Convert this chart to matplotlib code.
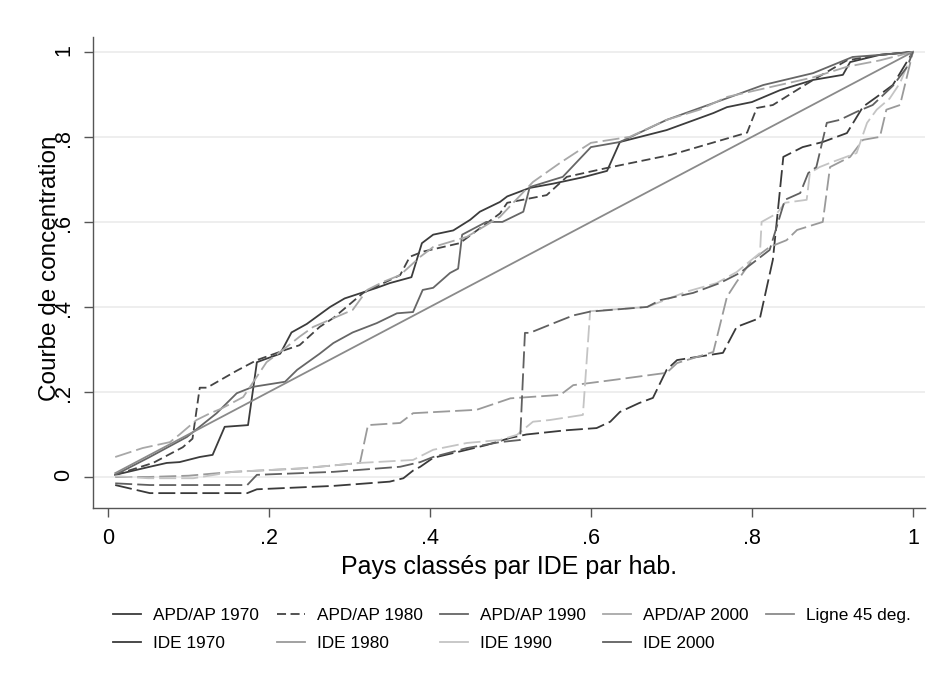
import matplotlib.pyplot as plt

plt.rcParams['font.family'] = ['Liberation Sans', 'DejaVu Sans']

# --- data ---
apd70_x = [0.009, 0.052, 0.073, 0.089, 0.114, 0.13, 0.145, 0.174, 0.185, 0.214, 0.228, 0.247, 0.276, 0.294,
           0.334, 0.35, 0.377, 0.39, 0.404, 0.429, 0.45, 0.462, 0.487, 0.496, 0.524, 0.553, 0.59, 0.62, 0.636,
           0.694, 0.752, 0.769, 0.80, 0.835, 0.876, 0.913, 0.922, 0.959, 1.0]
apd70_y = [0.005, 0.024, 0.033, 0.035, 0.047, 0.052, 0.118, 0.122, 0.27, 0.29, 0.34, 0.36, 0.40, 0.42,
           0.445, 0.456, 0.47, 0.55, 0.57, 0.58, 0.605, 0.624, 0.647, 0.66, 0.68, 0.69, 0.705, 0.72, 0.788,
           0.816, 0.856, 0.87, 0.882, 0.91, 0.934, 0.946, 0.976, 0.993, 1.0]

apd80_x = [0.009, 0.056, 0.093, 0.105, 0.114, 0.123, 0.16, 0.185, 0.222, 0.238, 0.263, 0.28, 0.317, 0.363,
           0.375, 0.391, 0.437, 0.487, 0.496, 0.545, 0.57, 0.62, 0.70, 0.794, 0.806, 0.826, 0.876, 0.918,
           0.959, 1.0]
apd80_y = [0.005, 0.033, 0.07, 0.09, 0.21, 0.21, 0.25, 0.275, 0.30, 0.31, 0.353, 0.374, 0.433, 0.475,
           0.518, 0.53, 0.55, 0.62, 0.645, 0.663, 0.706, 0.727, 0.758, 0.81, 0.868, 0.875, 0.934, 0.98,
           0.993, 1.0]

apd90_x = [0.009, 0.05, 0.098, 0.135, 0.16, 0.18, 0.22, 0.235, 0.263, 0.28, 0.304, 0.334, 0.359, 0.379,
           0.391, 0.404, 0.425, 0.435, 0.44, 0.47, 0.49, 0.516, 0.524, 0.565, 0.6, 0.636, 0.694, 0.769,
           0.814, 0.876, 0.925, 0.96, 1.0]
apd90_y = [0.005, 0.045, 0.094, 0.15, 0.197, 0.212, 0.224, 0.252, 0.29, 0.315, 0.34, 0.362, 0.385, 0.388,
           0.44, 0.445, 0.48, 0.49, 0.57, 0.60, 0.60, 0.624, 0.682, 0.706, 0.776, 0.788, 0.84, 0.891,
           0.922, 0.95, 0.988, 0.993, 1.0]

apd00_x = [0.009, 0.043, 0.077, 0.089, 0.11, 0.127, 0.14, 0.168, 0.197, 0.222, 0.238, 0.255, 0.304, 0.322,
           0.342, 0.363, 0.388, 0.404, 0.446, 0.487, 0.528, 0.561, 0.586, 0.6, 0.648, 0.694, 0.735, 0.769,
           0.876, 0.918, 0.959, 1.0]
apd00_y = [0.047, 0.068, 0.082, 0.10, 0.134, 0.15, 0.16, 0.188, 0.27, 0.306, 0.33, 0.353, 0.393, 0.44,
           0.459, 0.475, 0.518, 0.541, 0.565, 0.612, 0.694, 0.738, 0.769, 0.786, 0.80, 0.84, 0.864, 0.894,
           0.94, 0.965, 0.98, 1.0]

diag_x = [0.009, 1.0]

ide70_x = [0.009, 0.052, 0.173, 0.185, 0.28, 0.35, 0.367, 0.379, 0.388, 0.404, 0.446, 0.47, 0.5, 0.52,
           0.57, 0.607, 0.624, 0.636, 0.66, 0.677, 0.694, 0.707, 0.764, 0.781, 0.81, 0.826, 0.839, 0.863,
           0.888, 0.918, 0.938, 0.955, 0.975, 1.0]
ide70_y = [-0.019, -0.038, -0.038, -0.029, -0.021, -0.011, -0.003, 0.015, 0.024, 0.045, 0.064, 0.075,
           0.092, 0.10, 0.11, 0.115, 0.13, 0.153, 0.174, 0.186, 0.252, 0.275, 0.292, 0.353, 0.374, 0.511,
           0.753, 0.776, 0.788, 0.809, 0.871, 0.894, 0.922, 1.0]

ide80_x = [0.009, 0.05, 0.1, 0.155, 0.24, 0.313, 0.323, 0.363, 0.379, 0.458, 0.5, 0.562, 0.578, 0.627,
           0.694, 0.707, 0.752, 0.769, 0.781, 0.80, 0.822, 0.843, 0.856, 0.888, 0.897, 0.922, 0.938, 0.959,
           0.967, 0.984, 1.0]
ide80_y = [0.0, 0.0, 0.003, 0.012, 0.02, 0.033, 0.122, 0.127, 0.15, 0.158, 0.185, 0.193, 0.216, 0.228,
           0.245, 0.268, 0.294, 0.424, 0.459, 0.51, 0.541, 0.557, 0.581, 0.60, 0.729, 0.753, 0.793, 0.80,
           0.864, 0.875, 1.0]

ide90_x = [0.009, 0.05, 0.106, 0.155, 0.238, 0.313, 0.379, 0.404, 0.446, 0.487, 0.508, 0.528, 0.549, 0.59,
           0.599, 0.67, 0.719, 0.756, 0.781, 0.81, 0.812, 0.831, 0.841, 0.868, 0.872, 0.884, 0.9, 0.93,
           0.943, 0.955, 0.971, 0.984, 1.0]
ide90_y = [0.002, -0.003, -0.003, 0.012, 0.02, 0.033, 0.04, 0.064, 0.08, 0.087, 0.099, 0.13, 0.134, 0.146,
           0.39, 0.40, 0.436, 0.456, 0.482, 0.527, 0.60, 0.62, 0.645, 0.652, 0.715, 0.729, 0.741, 0.762,
           0.833, 0.864, 0.89, 0.927, 1.0]

ide00_x = [0.009, 0.052, 0.173, 0.185, 0.28, 0.363, 0.388, 0.404, 0.446, 0.487, 0.512, 0.518, 0.524, 0.558,
           0.578, 0.599, 0.67, 0.686, 0.727, 0.76, 0.785, 0.822, 0.841, 0.86, 0.87, 0.88, 0.893, 0.909,
           0.93, 0.95, 0.975, 0.993, 1.0]
ide00_y = [-0.015, -0.019, -0.019, 0.005, 0.012, 0.024, 0.035, 0.047, 0.068, 0.082, 0.087, 0.339, 0.339,
           0.365, 0.38, 0.389, 0.40, 0.416, 0.433, 0.456, 0.48, 0.534, 0.652, 0.668, 0.715, 0.729, 0.833,
           0.84, 0.859, 0.875, 0.92, 0.965, 1.0]

xticks = [0, 0.2, 0.4, 0.6, 0.8, 1]
xtick_labels = ['0', '.2', '.4', '.6', '.8', '1']
yticks = [0, 0.2, 0.4, 0.6, 0.8, 1]
ytick_labels = ['0', '.2', '.4', '.6', '.8', '1']

# --- figure ---
fig = plt.figure(figsize=(9.38, 6.86), dpi=100)
ax = fig.add_axes([93 / 938, 178 / 686, 832 / 938, 471 / 686])

lw = 1.3
long_dash = (0, (9.4, 2.8))
short_dash = (0, (5.0, 2.5))

h = {}
h['a70'], = ax.plot(apd70_x, apd70_y, color='#3c3c3c', lw=lw, label='APD/AP 1970')
h['a80'], = ax.plot(apd80_x, apd80_y, color='#444444', lw=lw, ls=short_dash, label='APD/AP 1980')
h['a90'], = ax.plot(apd90_x, apd90_y, color='#666666', lw=lw, label='APD/AP 1990')
h['a00'], = ax.plot(apd00_x, apd00_y, color='#a8a8a8', lw=lw, ls=long_dash, label='APD/AP 2000')
h['l45'], = ax.plot(diag_x, diag_x, color='#8a8a8a', lw=lw, label='Ligne 45 deg.')
h['i70'], = ax.plot(ide70_x, ide70_y, color='#3a3a3a', lw=lw, ls=long_dash, label='IDE 1970')
h['i80'], = ax.plot(ide80_x, ide80_y, color='#9a9a9a', lw=lw, ls=long_dash, label='IDE 1980')
h['i90'], = ax.plot(ide90_x, ide90_y, color='#c4c4c4', lw=lw, ls=long_dash, label='IDE 1990')
h['i00'], = ax.plot(ide00_x, ide00_y, color='#606060', lw=lw, ls=long_dash, label='IDE 2000')

ax.set_xlim(-0.0186, 1.015)
ax.set_ylim(-0.073, 1.035)

ax.set_xticks(xticks)
ax.set_xticklabels(xtick_labels)
ax.set_yticks(yticks)
ax.set_yticklabels(ytick_labels)
ax.tick_params(axis='both', length=6.5, width=1, color='#555555', pad=8, labelsize=15.5, labelcolor='black')
ax.tick_params(axis='y', labelrotation=90, pad=7)

ax.yaxis.grid(True, color='#ebebeb', lw=1.2)
ax.set_axisbelow(True)
for s in ['top', 'right']:
    ax.spines[s].set_visible(False)
for s in ['left', 'bottom']:
    ax.spines[s].set_color('#555555')
    ax.spines[s].set_linewidth(1)

ax.set_xlabel('Pays classés par IDE par hab.', fontsize=18, labelpad=4)
ax.set_ylabel('Courbe de concentration', fontsize=17.5)
ax.yaxis.set_label_coords(-0.052, 0.51)
ax.yaxis.label.set_va('center')

# legend in row order (matplotlib fills by column)
order = ['a70', 'i70', 'a80', 'i80', 'a90', 'i90', 'a00', 'i00', 'l45']
handles = [h[k] for k in order]
leg = fig.legend(handles, [x.get_label() for x in handles], ncol=5, loc='upper center',
                 bbox_to_anchor=(512 / 938, 1 - 592 / 686), frameon=False, fontsize=12.4,
                 handlelength=1.63, handletextpad=0.7, columnspacing=1.0, labelspacing=0.75)
for line in leg.get_lines():
    if line.get_label() not in ('APD/AP 1980',):
        line.set_linestyle('-')

fig.savefig('out.png', dpi=100)
